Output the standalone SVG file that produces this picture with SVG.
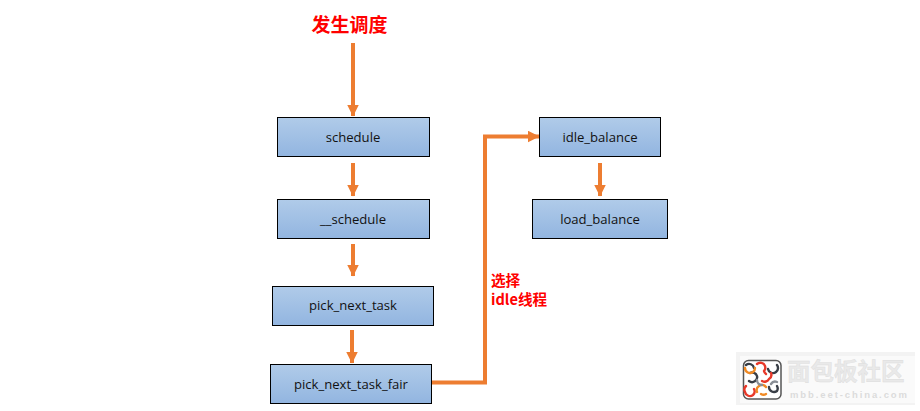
<svg xmlns="http://www.w3.org/2000/svg" width="920" height="411" viewBox="0 0 920 411">
  <style>
    .box { fill: url(#boxFill); stroke: #000; stroke-width: 1; }
    .label { font-family: "Open Sans", "Noto Sans", sans-serif; font-size: 13.1px; fill: #111; text-anchor: middle; }
    .red { font-family: "Noto Sans CJK SC", "Noto Sans", sans-serif; font-weight: 700; fill: #f00; }
    .link { fill: none; stroke: #ed7d31; stroke-width: 4; }
    .swirl { fill: none; stroke-width: 2.4; stroke-linecap: round; }
  </style>
  <defs>
    <linearGradient id="boxFill" x1="0" y1="0" x2="0" y2="1">
      <stop offset="0" stop-color="#b0cbe9"/>
      <stop offset="1" stop-color="#92b5e0"/>
    </linearGradient>
    <marker id="head" markerUnits="userSpaceOnUse" markerWidth="12" markerHeight="12" refX="11.5" refY="6" orient="auto">
      <path d="M0 0L12 6L0 12Z" fill="#ed7d31"/>
    </marker>
  </defs>
  <rect width="920" height="411" fill="#fff"/>

  <text class="red" x="349.500" y="32" font-size="19" text-anchor="middle">发生调度</text>
  <text class="red" x="491" y="286" font-size="14.600">选择</text>
  <text class="red" x="491" y="305" font-size="14.600">idle线程</text>

  <g id="connectors">
    <path class="link" d="M353 43V116" marker-end="url(#head)"/>
    <path class="link" d="M353 163V196" marker-end="url(#head)"/>
    <path class="link" d="M353 244V276" marker-end="url(#head)"/>
    <path class="link" d="M352 330V363" marker-end="url(#head)"/>
    <path class="link" d="M432 382.500H485V136.500H539" marker-end="url(#head)"/>
    <path class="link" d="M600 163V196" marker-end="url(#head)"/>
  </g>

  <g id="schedule">
    <rect class="box" x="277.500" y="117.500" width="152" height="39"/>
    <text class="label" x="353" y="142">schedule</text>
  </g>
  <g id="__schedule">
    <rect class="box" x="277.500" y="199.500" width="152" height="39"/>
    <text class="label" x="353" y="224">__schedule</text>
  </g>
  <g id="pick_next_task">
    <rect class="box" x="272.500" y="286.500" width="161" height="39"/>
    <text class="label" x="353" y="310">pick_next_task</text>
  </g>
  <g id="pick_next_task_fair">
    <rect class="box" x="270.500" y="364.500" width="161" height="39"/>
    <text class="label" x="351" y="389">pick_next_task_fair</text>
  </g>
  <g id="idle_balance">
    <rect class="box" x="539.500" y="117.500" width="121" height="39"/>
    <text class="label" x="600" y="142">idle_balance</text>
  </g>
  <g id="load_balance">
    <rect class="box" x="532.500" y="199.500" width="135" height="39"/>
    <text class="label" x="600" y="224">load_balance</text>
  </g>

  <!-- community badge in the lower right corner -->
  <g id="badge">
    <rect x="736" y="352" width="179" height="53" fill="#f3f3f3"/>
    <rect x="740" y="356" width="175" height="47" fill="#fafafa"/>
    <rect x="743.500" y="360.500" width="37.500" height="38.500" rx="5" fill="#fff" stroke="#555" stroke-width="1.500"/>
    <!-- three rows of interlocking arcs -->
    <path class="swirl" stroke="#3a3f47" d="M746 365a5 5 0 0 1 8 3M768 369a5 5 0 0 0 8 3a5 5 0 0 0 1-7M750 373a5 5 0 0 1 7 3a5 5 0 0 1-8 5M769 387a5 5 0 0 0 8 4a5 5 0 0 0 0-5"/>
    <path class="swirl" stroke="#e8392a" d="M757 364a5 5 0 0 1 8 2a5 5 0 0 1-1 5a5 5 0 0 0 2 3M762 381a5 5 0 0 0 7-2a5 5 0 0 0 2-6M746 386a5 5 0 0 0-1 6a5 5 0 0 0 8 3a5 5 0 0 0 1-6"/>
    <path class="swirl" stroke="#f08a24" d="M745 368a5 5 0 0 0 8 4a5 5 0 0 0 2-4M757 392a5 5 0 0 1 2-6a5 5 0 0 1 7 1M766 394a5 5 0 0 1-5 0"/>
    <path class="swirl" stroke="#8a8f96" d="M757 380a5 5 0 0 0 5 5M771 384a5 5 0 0 1 6-2"/>
    <text x="787" y="380" font-family="'Noto Sans CJK SC', sans-serif" font-size="23.500" font-weight="700" fill="#e9e9e9" stroke="#dcdcdc" stroke-width="0.400">面包板社区</text>
    <text x="790" y="398" font-family="'Liberation Sans', sans-serif" font-size="9.500" font-weight="700" fill="#dcdcdc" textLength="117">mbb.eet-china.com</text>
  </g>
</svg>
